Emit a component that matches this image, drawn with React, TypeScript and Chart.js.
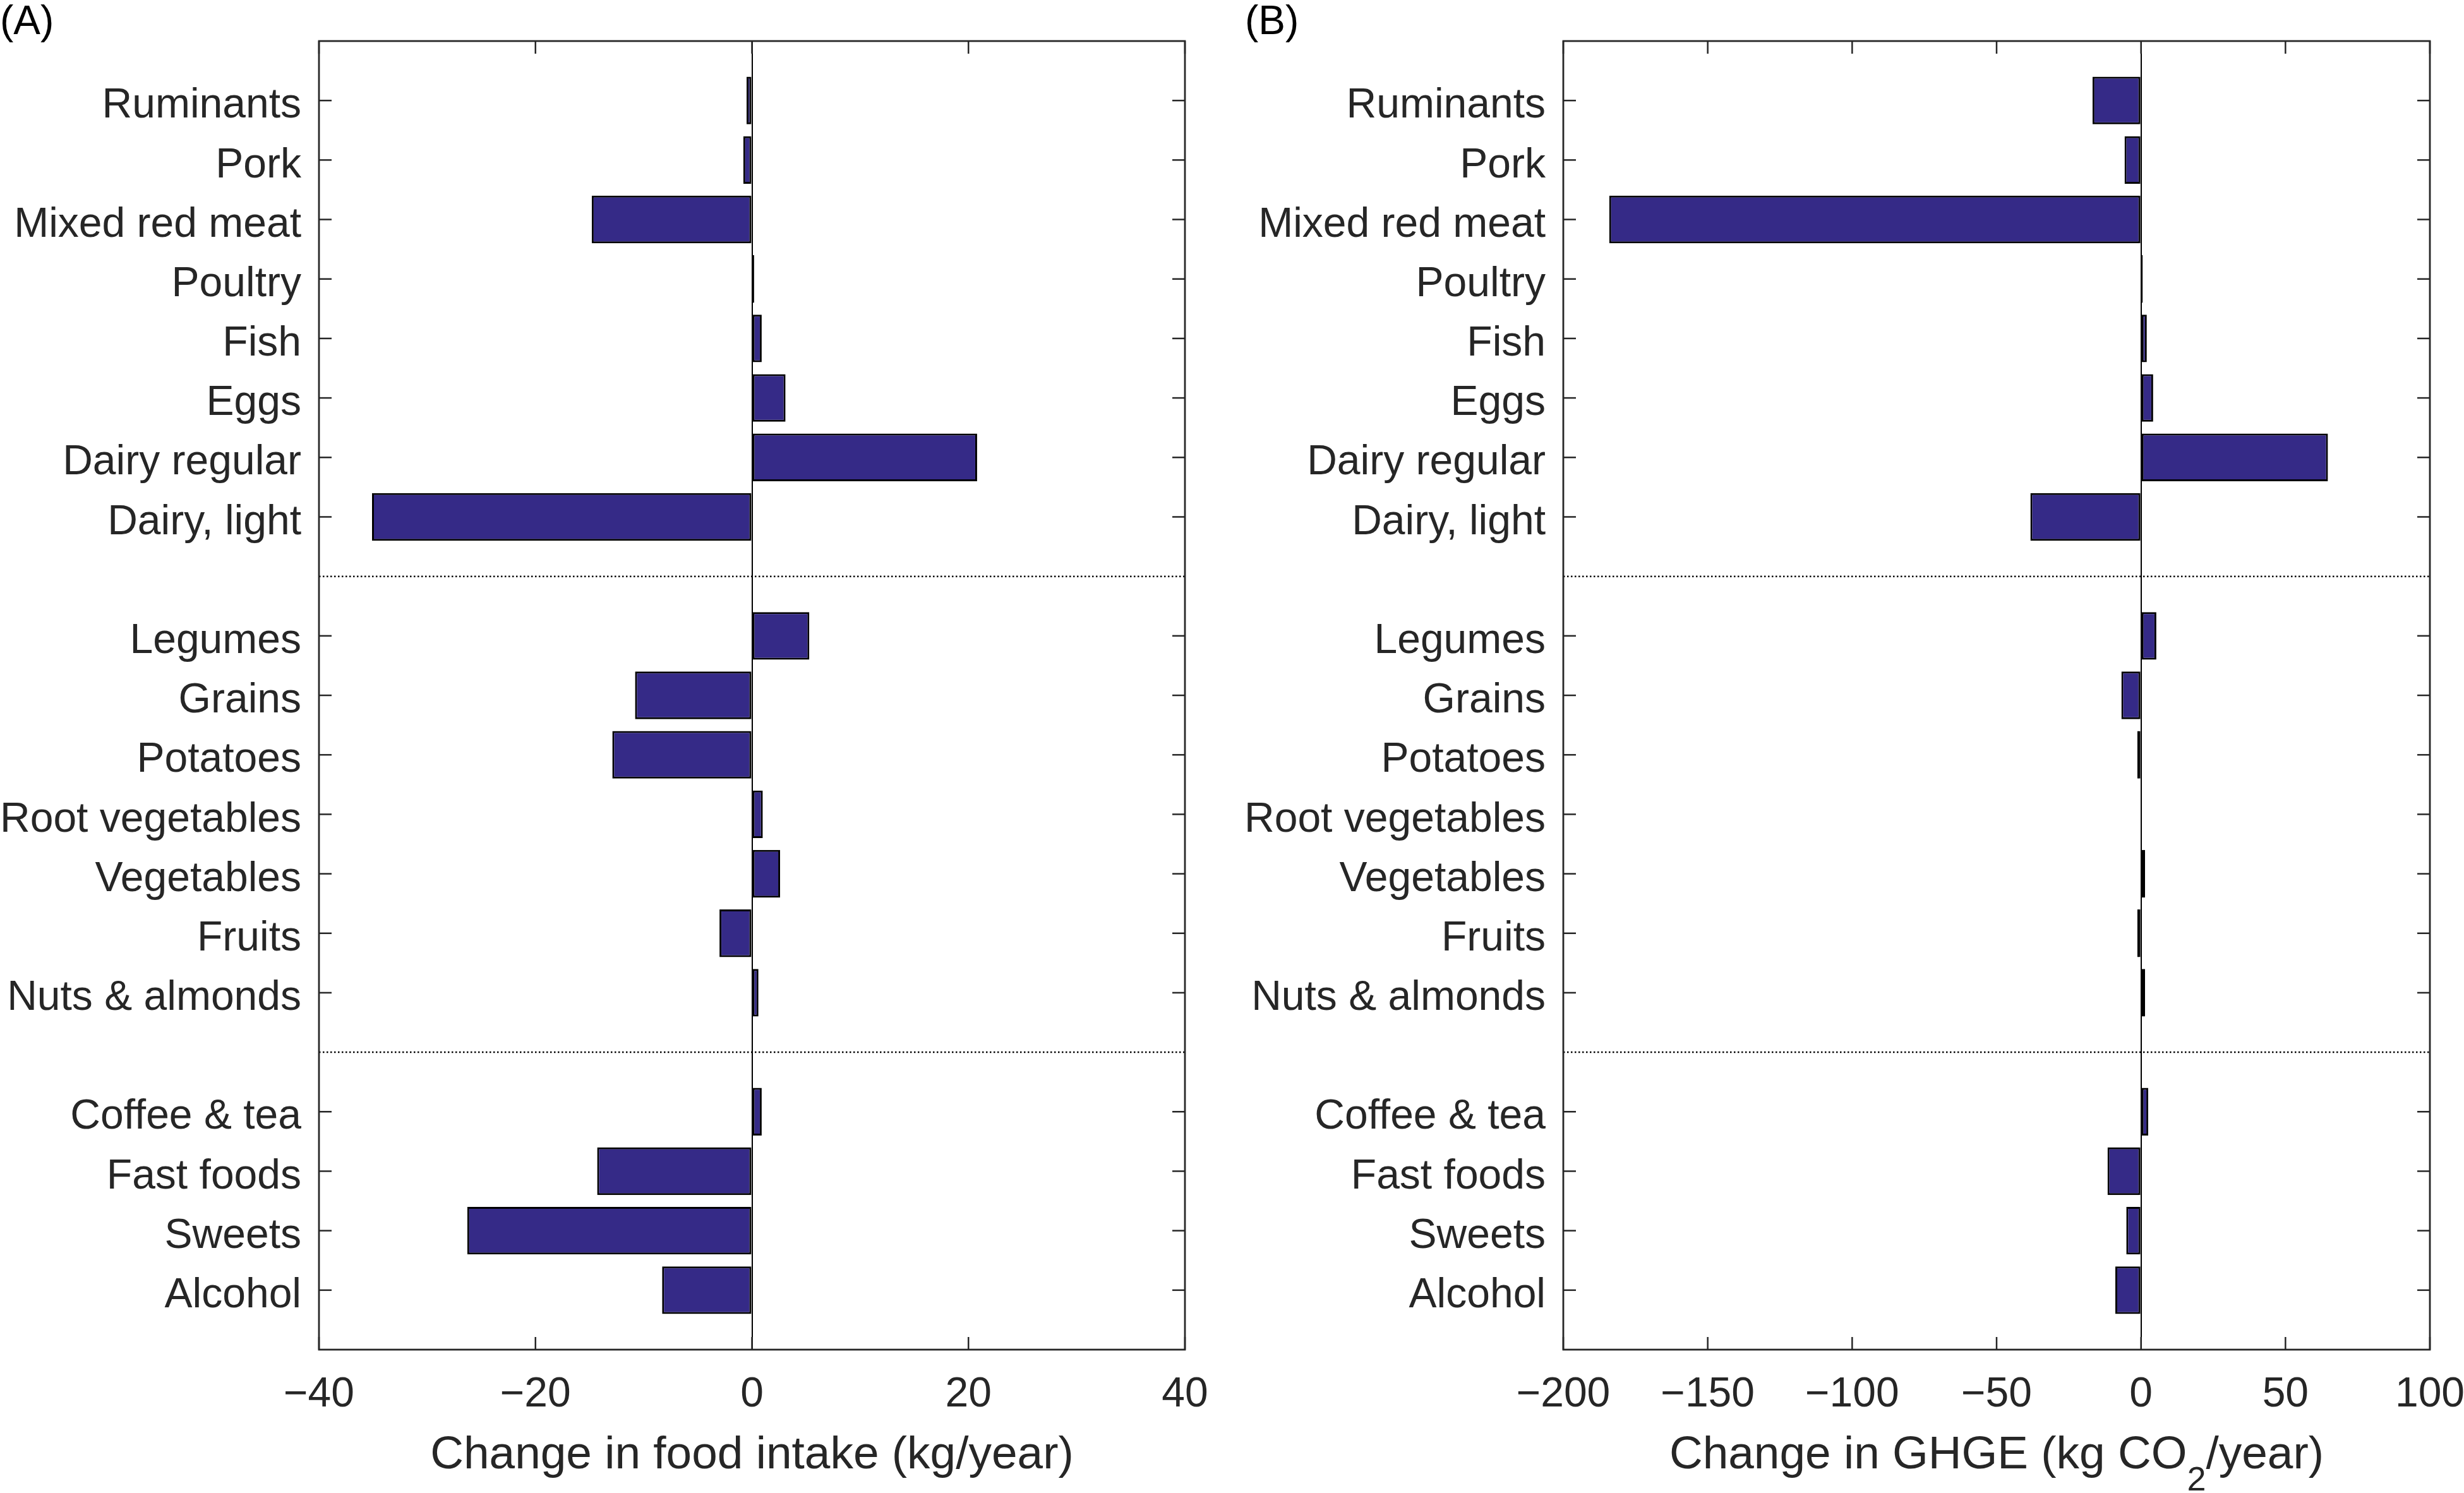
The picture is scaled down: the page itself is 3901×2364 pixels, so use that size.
import React, { useEffect, useRef } from 'react';
import { Chart, registerables } from 'chart.js';

Chart.register(...registerables);

// ---------- data ----------
const animalFoods = ['Ruminants', 'Pork', 'Mixed red meat', 'Poultry', 'Fish', 'Eggs', 'Dairy regular', 'Dairy, light'];
const plantFoods = ['Legumes', 'Grains', 'Potatoes', 'Root vegetables', 'Vegetables', 'Fruits', 'Nuts & almonds'];
const otherFoods = ['Coffee & tea', 'Fast foods', 'Sweets', 'Alcohol'];

// Panel A: change in food intake (kg/year)
const foodIntakeChange = [-0.5, -0.8, -14.8, 0.2, 0.9, 3.1, 20.8, -35.1, 5.3, -10.8, -12.9, 1.0, 2.6, -3.0, 0.6, 0.9, -14.3, -26.3, -8.3];
// Panel B: change in GHGE (kg CO2/year)
const ghgeChange = [-16.8, -5.7, -184.1, 0.6, 2.0, 4.2, 64.7, -38.3, 5.3, -6.8, -1.3, 0.2, 1.4, -1.3, 1.4, 2.5, -11.6, -5.1, -8.9];

const intakeTicks = [-40, -20, 0, 20, 40];
const ghgeTicks = [-200, -150, -100, -50, 0, 50, 100];

const intakeTitle = [{ text: 'Change in food intake (kg/year)' }];
const ghgeTitle = [{ text: 'Change in GHGE (kg CO' }, { text: '2', sub: true }, { text: '/year)' }];

// ---------- derived positions (groups separated by one empty slot) ----------
const foodGroups = [animalFoods, plantFoods, otherFoods];
const categories: string[] = [];
const positions: number[] = [];
const separators: number[] = [];
let slot = 0;
foodGroups.forEach((g, gi) => {
  if (gi > 0) {
    slot += 1;
    separators.push(slot);
  }
  g.forEach((name) => {
    slot += 1;
    categories.push(name);
    positions.push(slot);
  });
});
const yMax = slot + 1;

// ---------- style ----------
const FONT = "'Liberation Sans', Arial, Helvetica, sans-serif";
const AXIS = '#262626';
const BAR = '#352A87';
const H = 2364;

const fmt = (v: number) => (v < 0 ? '\u2212' + Math.abs(v) : String(v));

type Part = { text: string; sub?: boolean };

function Panel(props: {
  values: number[];
  ticks: number[];
  title: Part[];
  left: number;
  width: number;
  axisWidth: number;
  rightPad: number;
}) {
  const { values, ticks, title, left, width, axisWidth, rightPad } = props;
  const ref = useRef<HTMLCanvasElement>(null);

  useEffect(() => {
    const axesPlugin = {
      id: 'matlabAxes',
      afterDatasetsDraw(chart: any) {
        const { ctx, chartArea: a, scales } = chart;
        const x = scales.x;
        const y = scales.y;
        ctx.save();
        // dotted group separators
        ctx.strokeStyle = '#000';
        ctx.lineWidth = 2.5;
        ctx.setLineDash([2.5, 3.5]);
        separators.forEach((s) => {
          const py = y.getPixelForValue(s);
          ctx.beginPath();
          ctx.moveTo(a.left, py);
          ctx.lineTo(a.right, py);
          ctx.stroke();
        });
        ctx.setLineDash([]);
        // inward ticks on all four sides
        ctx.strokeStyle = AXIS;
        ctx.lineWidth = 2.5;
        const seg = (x1: number, y1: number, x2: number, y2: number) => {
          ctx.beginPath();
          ctx.moveTo(x1, y1);
          ctx.lineTo(x2, y2);
          ctx.stroke();
        };
        y.ticks.forEach((t: any) => {
          const py = y.getPixelForValue(t.value);
          seg(a.left, py, a.left + 20, py);
          seg(a.right, py, a.right - 20, py);
        });
        x.ticks.forEach((t: any) => {
          const px = x.getPixelForValue(t.value);
          seg(px, a.bottom, px, a.bottom - 20);
          seg(px, a.top, px, a.top + 20);
        });
        // frame
        ctx.lineWidth = 2.8;
        ctx.strokeRect(a.left, a.top, a.right - a.left, a.bottom - a.top);
        // axis title with optional subscript
        const mainFont = `73px ${FONT}`;
        const subFont = `54px ${FONT}`;
        let total = 0;
        const widths = title.map((p) => {
          ctx.font = p.sub ? subFont : mainFont;
          const w = ctx.measureText(p.text).width;
          total += w;
          return w;
        });
        let cx = (a.left + a.right) / 2 - total / 2;
        const base = a.bottom + 188;
        ctx.fillStyle = AXIS;
        ctx.textAlign = 'left';
        ctx.textBaseline = 'alphabetic';
        title.forEach((p, i) => {
          ctx.font = p.sub ? subFont : mainFont;
          ctx.fillText(p.text, cx, p.sub ? base + 35 : base);
          cx += widths[i];
        });
        ctx.restore();
      },
    };

    const chart = new Chart(ref.current as HTMLCanvasElement, {
      type: 'bar',
      data: {
        datasets: [
          {
            data: positions.map((p, i) => ({ x: values[i], y: p })),
            backgroundColor: BAR,
            borderColor: '#000',
            borderWidth: 3,
            borderSkipped: false,
            barPercentage: 0.8,
            categoryPercentage: 1,
          } as any,
        ],
      },
      options: {
        indexAxis: 'y',
        responsive: false,
        animation: false,
        devicePixelRatio: 1,
        layout: { padding: { top: 65, right: rightPad, left: 0, bottom: 0 } },
        plugins: {
          legend: { display: false },
          tooltip: { enabled: false },
          title: { display: false },
        },
        scales: {
          x: {
            type: 'linear',
            min: ticks[0],
            max: ticks[ticks.length - 1],
            offset: false,
            afterBuildTicks: (s: any) => {
              s.ticks = ticks.map((v) => ({ value: v }));
            },
            afterFit: (s: any) => {
              s.height = 227;
              s.paddingLeft = 0;
              s.paddingRight = 0;
            },
            grid: {
              color: (c: any) => (c.tick && c.tick.value === 0 ? '#000' : 'rgba(0,0,0,0)'),
              lineWidth: 2,
              drawTicks: false,
            },
            border: { display: false },
            ticks: {
              padding: 32,
              autoSkip: false,
              maxRotation: 0,
              color: AXIS,
              font: { family: FONT, size: 66 },
              callback: (v: any) => fmt(Number(v)),
            },
          },
          y: {
            type: 'linear',
            min: 0,
            max: yMax,
            reverse: true,
            offset: false,
            afterBuildTicks: (s: any) => {
              s.ticks = positions.map((v) => ({ value: v }));
            },
            afterFit: (s: any) => {
              s.width = axisWidth;
              s.paddingTop = 0;
              s.paddingBottom = 0;
            },
            grid: { display: false, drawTicks: false, offset: false },
            border: { display: false },
            ticks: {
              padding: 28,
              labelOffset: 9,
              autoSkip: false,
              color: AXIS,
              font: { family: FONT, size: 66 },
              callback: (v: any) => {
                const i = positions.indexOf(Number(v));
                return i >= 0 ? categories[i] : '';
              },
            },
          },
        },
      } as any,
      plugins: [axesPlugin],
    });
    return () => chart.destroy();
  }, []);

  return (
    <canvas
      ref={ref}
      width={width}
      height={H}
      style={{ position: 'absolute', left, top: 0, width, height: H }}
    />
  );
}

const panelLabelStyle: React.CSSProperties = {
  position: 'absolute',
  top: 0,
  fontFamily: FONT,
  fontSize: 64,
  lineHeight: 1,
  color: '#000',
};

export default function App() {
  return (
    <div
      style={{
        position: 'absolute',
        left: 0,
        top: 0,
        width: 3901,
        height: H,
        background: '#fff',
        overflow: 'hidden',
      }}
    >
      <Panel values={foodIntakeChange} ticks={intakeTicks} title={intakeTitle} left={0} width={1950} axisWidth={505} rightPad={74} />
      <Panel values={ghgeChange} ticks={ghgeTicks} title={ghgeTitle} left={1950} width={1951} axisWidth={525} rightPad={54} />
      <div style={{ ...panelLabelStyle, left: 0 }}>(A)</div>
      <div style={{ ...panelLabelStyle, left: 1971 }}>(B)</div>
    </div>
  );
}
